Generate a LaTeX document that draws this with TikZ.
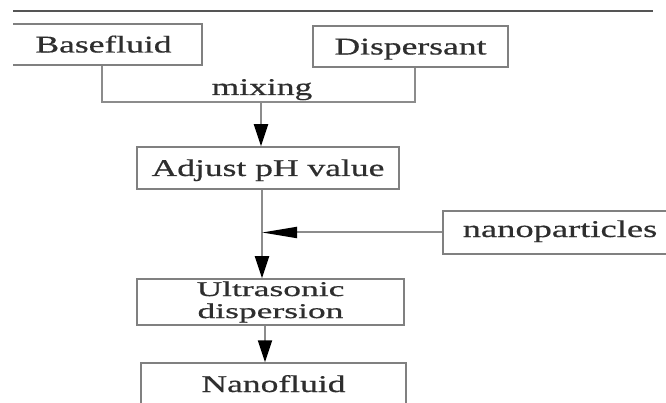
\documentclass[tikz,border=0pt]{standalone}
\usepackage{fontspec}
\setmainfont{Liberation Serif}
\newfontfamily\widefont[FakeStretch=1.48,FakeBold=0.6]{Liberation Serif}
\newfontfamily\widerfont[FakeStretch=1.69,FakeBold=0.6]{Liberation Serif}
\newfontfamily\nanofont[FakeStretch=1.52,FakeBold=0.6]{Liberation Serif}
\usetikzlibrary{arrows.meta}
\definecolor{boxgray}{HTML}{808080}
\definecolor{linegray}{HTML}{8C8C8C}
\definecolor{rulegray}{HTML}{555555}
\definecolor{txt}{HTML}{2E2E2E}
\begin{document}
\begin{tikzpicture}[x=1pt,y=-1pt,
  box/.style={draw=boxgray, line width=1.5pt, inner sep=0pt, text=txt,
              font=\fontsize{24}{26}\widefont},
  oneline/.style={text height=16pt, text depth=0pt},
  plainlabel/.style={inner sep=0pt, text=txt, font=\fontsize{24}{26}\widefont,
              text height=16pt, text depth=0pt},
  conn/.style={draw=linegray, line width=2pt},
  tipv/.style={-{Triangle[length=22pt,width=14pt,black]}},
  tiph/.style={-{Triangle[length=35pt,width=11pt,black]}}]
\useasboundingbox (0,0) rectangle (666,403);
\clip (13,0) rectangle (666,403);
\fill[white] (0,0) rectangle (666,403);
\draw[draw=rulegray, line width=2pt] (13,11) -- (653,11);

\node[box, oneline, minimum width=197pt, minimum height=41pt] (base) at (103.5,44.5) {Basefluid};
\node[box, oneline, minimum width=195pt, minimum height=41pt] (disp) at (410.5,46.5) {Dispersant};
\node[plainlabel] (mix) at (262,87) {mixing};
\node[box, oneline, minimum width=262pt, minimum height=42pt] (adj) at (268,168) {Adjust pH value};
\node[box, font=\fontsize{24}{26}\nanofont, text height=9pt, text depth=0pt, minimum width=234pt, minimum height=43pt] (nano) at (560,232.5) {nanoparticles};
\node[box, align=center, font=\fontsize{21}{22}\widerfont, minimum width=267pt, minimum height=46pt] (ultra) at (270.5,302) {Ultrasonic\\dispersion};
\node[box, oneline, minimum width=265pt, minimum height=42pt] (fluid) at (273.5,384) {Nanofluid};

\coordinate (mixL) at (102,102);
\coordinate (mixR) at (415,102);
\coordinate (mixM) at (261,102);
\coordinate (junc) at (262,233);
\coordinate (low) at (265,340);

\draw[conn] (base.south -| mixL) -- (mixL) -- (mixR) -- (disp.south -| mixR);
\draw[conn, tipv] (mixM) -- (mixM |- adj.north);
\draw[conn, tipv] (junc |- adj.south) -- (junc |- ultra.north);
\draw[conn, tiph] (nano.west) -- (nano.west -| junc);
\draw[conn, tipv] (low |- ultra.south) -- (low |- fluid.north);
\end{tikzpicture}
\end{document}
